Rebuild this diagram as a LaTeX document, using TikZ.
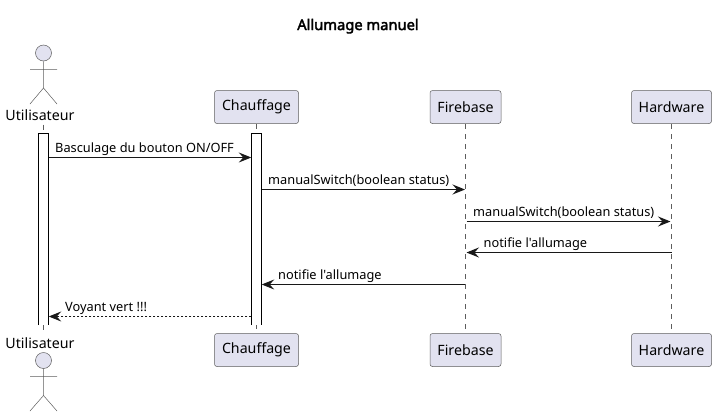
\documentclass[tikz,border=0pt]{standalone}
\usepackage{fontspec}
\setmainfont{Noto Sans}[Ligatures=TeXOff]
\newfontfamily\titlefont{Noto Sans}[FakeBold=2.6,Ligatures=TeXOff]
\usetikzlibrary{arrows.meta}
\definecolor{pfill}{HTML}{E2E2F0}
\definecolor{pline}{HTML}{181818}
\tikzset{
  partbox/.style={draw=pline!70!white,line width=.5pt,fill=pfill,rounded corners=2.5pt,minimum height=33pt,inner sep=0pt,font=\fontsize{14.2}{16}\selectfont},
  actname/.style={font=\fontsize{14.2}{16}\selectfont,anchor=base,inner sep=0pt},
  figure/.style={draw=pline!70!white,line width=.5pt},
  lifeline/.style={draw=pline!70!white,line width=.5pt,dash pattern=on 5pt off 5pt},
  actbar/.style={minimum width=10pt,minimum height=191pt,inner sep=0pt,fill=white},
  barline/.style={draw=black,line width=1pt},
  msg/.style={draw=pline,line width=1pt,-{Stealth[length=12.5pt,width=10pt,inset=4.5pt]}},
  msgret/.style={msg,dash pattern=on 2pt off 2pt},
  msgtext/.style={font=\fontsize{12.8}{15}\selectfont,anchor=base west,inner sep=0pt,text=black},
  titletext/.style={font=\titlefont\fontsize{14.7}{16}\selectfont,anchor=base,inner sep=0pt}
}
\begin{document}
\begin{tikzpicture}[x=1pt,y=-1pt]
\useasboundingbox (0,0) rectangle (716,416);
\node[titletext] (title) at (358,30) {Allumage manuel};
% lifeline ends
\coordinate (ut) at (43.5,124.5); \coordinate (ub) at (43.5,330);
\coordinate (ct) at (256.5,124); \coordinate (cb) at (256.5,333);
\coordinate (ft) at (465.5,124); \coordinate (fb) at (465.5,333);
\coordinate (ht) at (671.5,124); \coordinate (hb) at (671.5,333);
\draw[lifeline] (ut) -- (ub);
\draw[lifeline] (ct) -- (cb);
\draw[lifeline] (ft) -- (fb);
\draw[lifeline] (ht) -- (hb);
% participants
\node[partbox,minimum width=84pt] (cT) at (256.5,107) {Chauffage};
\node[partbox,minimum width=71pt] (fT) at (465.5,107) {Firebase};
\node[partbox,minimum width=80pt] (hT) at (671.5,107) {Hardware};
\node[partbox,minimum width=84pt] (cB) at (256.5,350) {Chauffage};
\node[partbox,minimum width=71pt] (fB) at (465.5,350) {Firebase};
\node[partbox,minimum width=80pt] (hB) at (671.5,350) {Hardware};
% actor top
\node[circle,figure,fill=pfill,minimum size=16pt,inner sep=0pt] (headT) at (43.5,53) {};
\coordinate (hipT) at (43.5,88);
\coordinate (armLT) at (30,69.5); \coordinate (armRT) at (57,69.5);
\coordinate (legLT) at (30,104); \coordinate (legRT) at (57,104);
\draw[figure] (headT.south) -- (hipT) (armLT) -- (armRT) (legLT) -- (hipT) -- (legRT);
\node[actname] (uT) at (40,120) {Utilisateur};
% actor bottom
\node[actname] (uB) at (40,348) {Utilisateur};
\node[circle,figure,fill=pfill,minimum size=16pt,inner sep=0pt] (headB) at (43.5,360.5) {};
\coordinate (hipB) at (43.5,395.5);
\coordinate (armLB) at (30,376.5); \coordinate (armRB) at (57,376.5);
\coordinate (legLB) at (30,411); \coordinate (legRB) at (57,411);
\draw[figure] (headB.south) -- (hipB) (armLB) -- (armRB) (legLB) -- (hipB) -- (legRB);
% activation bars
\node[actbar] (aU) at (43.5,229.5) {};
\node[actbar] (aC) at (256.5,229.5) {};
\draw[barline] (aU.south west) -- (aU.north west) -- (aU.north east) -- (aU.south east);
\draw[barline] (aC.south west) -- (aC.north west) -- (aC.north east) -- (aC.south east);
% message rows
\coordinate (r1) at (0,157.5); \coordinate (r2) at (0,189.5); \coordinate (r3) at (0,221.5);
\coordinate (r4) at (0,252.5); \coordinate (r5) at (0,284.5); \coordinate (r6) at (0,316.5);
\draw[msg] (aU.east |- r1) -- (aC.west |- r1);
\draw[msg] (aC.east |- r2) -- ([xshift=-.5pt]ft |- r2);
\draw[msg] ([xshift=1pt]ft |- r3) -- ([xshift=-1pt]ht |- r3);
\draw[msg] (ht |- r4) -- ([xshift=1pt]ft |- r4);
\draw[msg] ([xshift=-.5pt]ft |- r5) -- (aC.east |- r5);
\draw[msgret] (aC.west |- r6) -- (aU.east |- r6);
\node[msgtext] (m1) at (55,152) {Basculage du bouton ON/OFF};
\node[msgtext] (m2) at (268,184) {manualSwitch(boolean status)};
\node[msgtext] (m3) at (473,216) {manualSwitch(boolean status)};
\node[msgtext] (m4) at (483.5,247) {notifie l'allumage};
\node[msgtext] (m5) at (278,279) {notifie l'allumage};
\node[msgtext] (m6) at (65,311) {Voyant vert !!!};
\end{tikzpicture}
\end{document}
